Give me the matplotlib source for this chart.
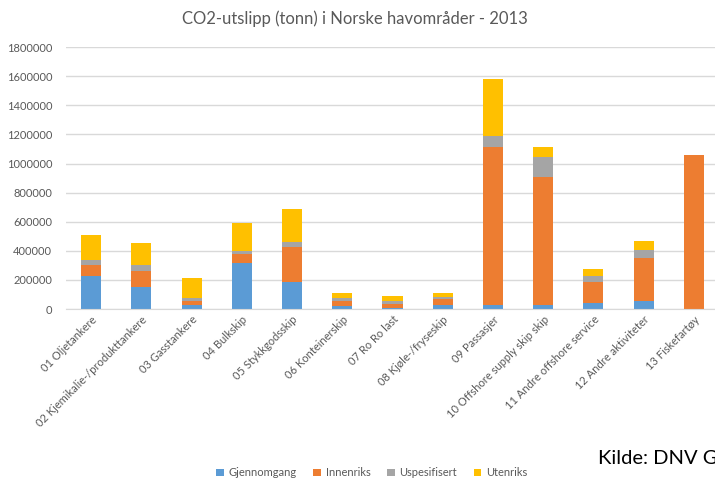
from matplotlib import pyplot as plt
import numpy as np

plt.rcParams['font.family'] = ['Lato', 'DejaVu Sans']

# categories and the four series (tonn CO2)
categories = ['01 Oljetankere', '02 Kjemikalie-/produkttankere', '03 Gasstankere',
              '04 Bulkskip', '05 Stykkgodsskip', '06 Konteinerskip', '07 Ro Ro last',
              '08 Kjøle-/fryseskip', '09 Passasjer', '10 Offshore supply skip skip',
              '11 Andre offshore service', '12 Andre aktiviteter', '13 Fiskefartøy']
gjennomgang = [229000, 153000, 27000, 318000, 183000, 18000, 11000, 30000, 25000, 25000, 41000, 53000, 0]
innenriks = [76000, 110000, 30000, 62000, 243000, 35000, 26000, 41000, 1088000, 882000, 142000, 295000, 1061000]
uspesifisert = [34000, 42000, 21000, 21000, 37000, 23000, 16000, 9000, 78000, 140000, 44000, 60000, 0]
utenriks = [167000, 149000, 137000, 190000, 222000, 34000, 36000, 32000, 390000, 66000, 48000, 57000, 0]

series = [('Gjennomgang', gjennomgang, '#5B9BD5'),
          ('Innenriks', innenriks, '#ED7D31'),
          ('Uspesifisert', uspesifisert, '#A5A5A5'),
          ('Utenriks', utenriks, '#FFC000')]

text_col = '#595959'

fig = plt.figure(figsize=(7.15, 4.8), dpi=100)
ax = fig.add_axes([0.0923, 0.356, 0.9133, 0.546])

x = np.arange(len(categories))
bottom = np.zeros(len(categories))
for name, vals, col in series:
    ax.bar(x, vals, width=0.4, bottom=bottom, color=col, label=name, zorder=2)
    bottom += np.array(vals)

ax.set_xlim(-0.5, len(categories) - 0.5)
ax.set_ylim(0, 1800000)
ax.set_yticks(np.arange(0, 1800001, 200000))
ax.set_yticklabels([str(v) for v in range(0, 1800001, 200000)])
ax.grid(axis='y', color='#D9D9D9', linewidth=1, zorder=0)
for s in ['top', 'right', 'left']:
    ax.spines[s].set_visible(False)
ax.spines['bottom'].set_color('#D9D9D9')
ax.tick_params(axis='both', length=0, colors=text_col, labelsize=8)
ax.tick_params(axis='y', pad=10)
ax.set_xticks(x)
ax.set_xticklabels(categories, rotation=45, ha='right', rotation_mode='anchor')

fig.text(0.497, 0.962, 'CO2-utslipp (tonn) i Norske havområder - 2013',
         ha='center', va='center', fontsize=12, color=text_col)

fig.legend(loc='center', bbox_to_anchor=(0.52, 0.015), ncol=4, frameon=False,
           fontsize=8, labelcolor=text_col, handlelength=0.7, handleheight=0.7,
           handletextpad=0.4, columnspacing=1.5)

# source note, runs off the right edge like in the original slide
fig.text(0.836, 0.044, 'Kilde: DNV GL', fontsize=14.5, color='black', va='center')

fig.savefig('out.png', dpi=100)
